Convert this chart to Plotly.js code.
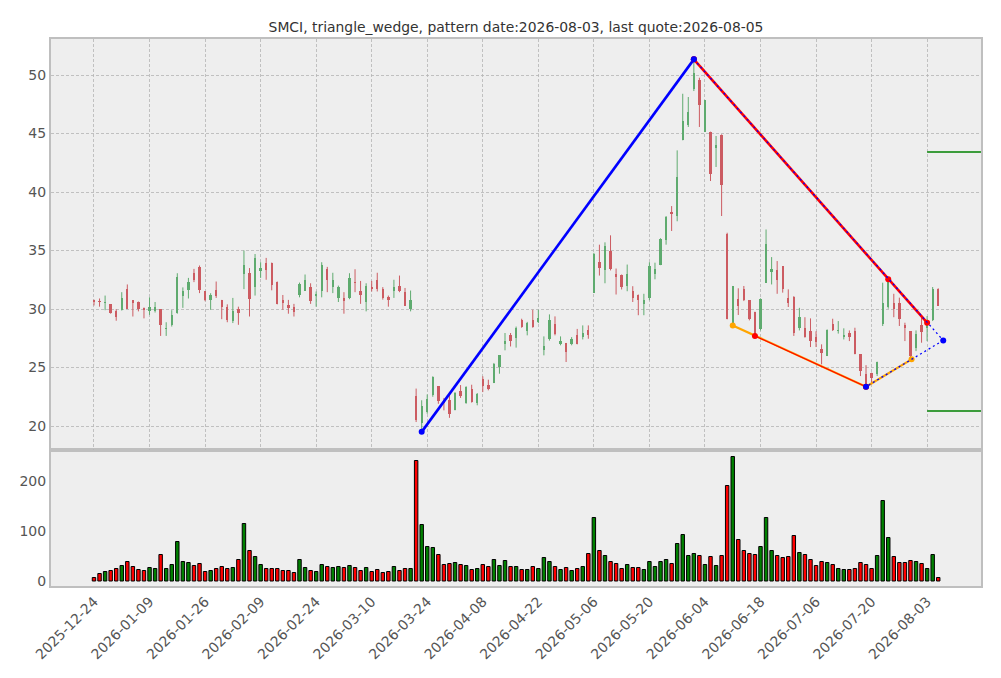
<!DOCTYPE html>
<html>
<head>
<meta charset="utf-8">
<script src="https://cdn.plot.ly/plotly-3.0.1.min.js"></script>
<style>
html,body{margin:0;padding:0;background:#fff;}
#chart{width:1001px;height:678px;}
</style>
</head>
<body>
<div id="chart"></div>
<script>
// ---- data (bar index 0 = 2025-12-24, 152 = 2026-08-05) ----
const opens = [30.73,30.7,30.5,30.4,29.8,29.93,31.72,30.73,30.64,30.13,
29.87,29.87,29.96,28.3,28.67,29.67,31.15,31.65,33.06,33.63,
31.5,30.78,31.64,30.78,30.2,29.0,30.0,33.0,33.06,31.87,
33.23,33.9,33.97,32.3,30.73,30.36,30.2,31.24,31.58,31.87,
31.1,31.58,33.46,31.87,30.95,30.95,30.9,32.35,31.5,30.64,
31.9,32.44,31.72,31.07,31.5,32.0,31.44,30.0,22.6,20.26,
21.2,22.62,23.4,22.2,22.25,21.34,23.0,21.97,23.16,21.97,
24.05,23.47,23.67,25.04,27.0,27.8,27.55,29.09,28.1,29.09,
28.9,26.47,27.46,28.69,27.04,27.1,26.98,27.75,27.6,28.23,
31.4,34.0,33.3,35.0,33.03,32.95,31.95,31.58,31.24,30.4,
30.9,32.96,33.8,35.87,38.3,37.95,44.42,45.73,48.77,49.54,
45.16,45.16,43.8,44.87,36.44,28.7,30.83,31.68,30.74,29.77,
28.26,32.25,33.2,33.3,33.67,30.97,31.03,28.35,28.35,28.12,
27.6,26.55,25.98,28.75,28.1,27.6,27.98,28.12,26.13,24.42,
24.56,24.42,28.75,30.17,30.54,30.54,28.63,28.12,26.7,28.6,
28.35,29.03,31.68];
const highs = [30.8,30.9,31.15,30.4,29.98,31.44,32.1,30.75,30.64,30.13,
31.0,30.6,29.96,28.87,29.9,33.06,31.85,32.66,33.43,33.72,
31.5,31.35,32.35,30.78,30.4,30.95,30.2,35.0,33.5,34.7,
34.0,34.37,33.97,32.35,31.2,30.78,30.44,32.26,32.95,32.2,
31.5,34.0,33.6,33.1,32.0,31.44,33.06,33.4,32.4,32.2,
32.4,33.1,31.87,31.15,32.5,32.86,31.8,31.58,23.2,22.2,
22.7,24.25,23.4,22.4,22.9,22.9,23.5,23.4,23.53,22.82,
24.25,23.96,25.39,26.04,27.95,27.95,28.5,29.17,28.9,29.94,
29.94,27.66,29.54,29.37,27.66,27.1,27.6,28.3,28.6,28.6,
34.8,35.5,35.7,36.3,33.46,32.95,33.8,31.95,31.24,31.3,
34.0,33.96,36.05,37.95,38.8,43.56,48.4,48.12,51.34,49.77,
47.83,45.16,44.79,44.93,36.52,31.97,31.77,31.97,30.74,29.77,
30.91,36.8,34.44,34.1,33.67,31.68,31.1,30.1,29.3,29.2,
28.1,26.98,28.26,29.17,28.97,28.35,28.17,28.4,26.13,25.2,
24.56,25.5,32.25,32.45,31.3,30.97,28.83,28.12,28.17,29.26,
29.4,31.88,31.77];
const lows = [30.3,30.2,29.9,29.6,29.0,29.87,30.0,29.36,29.8,29.2,
29.5,29.7,27.7,27.7,28.5,29.6,30.1,30.9,32.3,31.36,
30.67,29.93,30.95,29.13,28.87,28.8,28.65,31.7,29.36,31.15,
32.66,32.5,31.6,30.4,29.93,29.6,29.36,31.0,31.58,30.44,
30.2,31.0,31.44,31.36,30.6,29.6,30.84,31.44,30.44,29.8,
31.5,31.5,30.8,30.2,30.95,31.44,30.3,29.8,20.34,19.5,
21.05,22.5,21.9,21.34,20.7,21.34,22.4,21.9,22.0,21.77,
22.9,23.05,23.67,24.47,26.47,26.8,26.7,28.4,27.75,28.4,
28.8,26.04,27.3,27.75,26.9,25.47,26.9,26.98,27.4,27.46,
31.4,32.86,32.2,33.3,31.24,31.67,31.52,30.6,29.47,29.47,
30.75,32.54,33.75,35.5,36.67,37.5,44.42,45.56,48.63,45.56,
45.16,40.94,42.14,37.95,29.12,28.55,29.49,30.68,29.03,27.5,
28.17,32.25,32.1,31.3,31.4,30.17,27.7,28.17,27.55,26.75,
26.75,25.27,25.98,28.12,27.9,27.4,27.26,26.13,24.27,23.4,
23.56,24.27,28.55,30.03,29.3,28.55,27.26,25.78,26.4,27.12,
27.26,28.97,30.26];
const closes = [30.56,30.6,30.6,29.65,29.3,30.95,30.0,30.5,29.96,29.9,
30.2,30.2,28.6,28.4,29.45,32.72,31.5,32.3,32.44,31.64,
30.73,31.24,31.15,30.16,29.1,29.8,29.64,33.8,30.84,34.37,
33.52,33.3,32.04,30.44,30.5,30.07,29.73,32.15,32.44,30.67,
31.27,33.8,32.44,32.44,31.92,30.67,32.66,32.2,31.24,32.0,
31.72,31.72,30.95,30.73,31.92,31.5,30.3,30.78,20.5,21.68,
22.34,24.19,22.14,21.97,21.05,22.82,22.54,23.33,22.05,22.7,
23.4,23.2,25.33,26.04,27.26,27.26,28.4,28.5,28.8,28.46,
29.26,26.8,29.09,27.83,27.3,26.32,27.46,27.04,27.98,27.75,
34.7,33.5,35.37,33.43,32.72,31.87,33.03,30.95,30.8,30.8,
33.7,33.45,35.95,37.86,38.1,41.28,46.07,46.87,50.2,47.4,
47.83,41.57,44.0,40.6,29.12,31.97,30.26,30.74,29.12,27.7,
30.83,35.53,33.4,32.45,31.68,30.54,27.98,29.3,27.6,27.26,
27.15,26.2,28.17,28.17,28.2,27.78,27.6,26.13,24.7,23.56,
24.13,25.5,30.54,32.45,29.97,29.12,28.4,25.98,27.9,28.06,
29.03,31.68,30.26];
const volumes = [7,15,19,21,25,31,39,29,23,21,
27,25,53,25,33,79,39,37,31,35,
19,21,25,29,25,27,43,115,61,49,
33,25,25,25,21,21,17,43,27,21,
19,33,29,27,29,27,31,27,21,27,
19,23,17,19,29,21,25,25,241,113,
69,67,53,33,35,37,33,31,23,25,
33,29,43,31,41,29,29,23,23,29,
25,47,39,29,23,27,21,25,29,55,
127,61,51,39,35,25,33,27,27,23,
39,29,39,43,35,75,93,51,55,51,
33,49,31,51,191,249,83,61,55,53,
69,127,61,51,47,49,91,57,53,43,
31,39,37,33,25,23,23,25,37,33,
25,51,161,87,49,37,37,41,39,35,
25,53,7];
const tickLabels = ["2025-12-24","2026-01-09","2026-01-26","2026-02-09","2026-02-24",
"2026-03-10","2026-03-24","2026-04-08","2026-04-22","2026-05-06","2026-05-20",
"2026-06-04","2026-06-18","2026-07-06","2026-07-20","2026-08-03"];
const tickEvery = 10;

// pattern lines (bar index, price)
const riseX = [59, 108],            riseY = [19.5, 51.34];
const upperX = [108, 143, 150],     upperY = [51.34, 32.54, 28.83];
const upperExtX = [108, 152.9],     upperExtY = [51.34, 27.32];
const lowerExtX = [152.9, 139],     lowerExtY = [27.32, 23.36];
const orangeX = [115, 139, 147.2],  orangeY = [28.6, 23.36, 25.7];
const lowerRedX = [119, 139],       lowerRedY = [27.7, 23.36];
const targetLevels = [43.42, 21.28];
const targetStart = 150;

// ---- build traces ----
const UPC = '#5fab6f', DNC = '#cc5c62';
const idx = opens.map((_, i) => i);
const up = idx.filter(i => closes[i] >= opens[i]);
const dn = idx.filter(i => closes[i] < opens[i]);
const minBody = 0.07;

function wick(list, color) {
  const x = [], y = [];
  list.forEach(i => { x.push(i, i, null); y.push(lows[i], highs[i], null); });
  return {type:'scatter', mode:'lines', x, y, xaxis:'x2', yaxis:'y',
    line:{color, width:1}, hoverinfo:'skip', showlegend:false};
}
function body(list, color, isUp) {
  return {type:'bar', x:list,
    base:list.map(i => isUp ? opens[i] : closes[i]),
    y:list.map(i => Math.max(Math.abs(closes[i]-opens[i]), minBody)),
    width:0.42, xaxis:'x2', yaxis:'y',
    marker:{color, line:{width:0}}, showlegend:false, hoverinfo:'skip'};
}

const traces = [
  wick(up, UPC), wick(dn, DNC), body(up, UPC, true), body(dn, DNC, false),
  {type:'bar', x:idx, y:volumes, width:0.62, xaxis:'x', yaxis:'y2',
   marker:{color:idx.map(i => closes[i] >= opens[i] ? '#008000' : '#ff0000'),
           line:{color:'#000', width:1}}, showlegend:false},
];
targetLevels.forEach(v => traces.push({type:'scatter', mode:'lines',
  x:[targetStart, targetStart + 30], y:[v, v], xaxis:'x2', yaxis:'y',
  line:{color:'#008000', width:1.5}, showlegend:false}));

traces.push({type:'scatter', mode:'lines+markers', x:riseX, y:riseY, xaxis:'x2', yaxis:'y',
  line:{color:'#0000ff', width:2.6}, marker:{color:'#0000ff', size:6}, showlegend:false});
traces.push({type:'scatter', mode:'lines+markers', x:orangeX, y:orangeY, xaxis:'x2', yaxis:'y',
  line:{color:'#ffa500', width:2.2}, marker:{color:'#ffa500', size:6}, showlegend:false});
traces.push({type:'scatter', mode:'lines+markers', x:lowerRedX, y:lowerRedY, xaxis:'x2', yaxis:'y',
  line:{color:'#ff0000', width:1.2}, marker:{color:'#ff0000', size:6}, showlegend:false});
traces.push({type:'scatter', mode:'lines+markers', x:upperX, y:upperY, xaxis:'x2', yaxis:'y',
  line:{color:'#ff0000', width:2.6}, marker:{color:'#ff0000', size:6}, showlegend:false});
traces.push({type:'scatter', mode:'lines', x:upperExtX, y:upperExtY, xaxis:'x2', yaxis:'y',
  line:{color:'#0000ff', width:1.3, dash:'2px,3px'}, showlegend:false});
traces.push({type:'scatter', mode:'lines+markers', x:lowerExtX, y:lowerExtY, xaxis:'x2', yaxis:'y',
  line:{color:'#0000ff', width:1.3, dash:'2px,3px'}, marker:{color:'#0000ff', size:6}, showlegend:false});
// peak marker on top
traces.push({type:'scatter', mode:'markers', x:[riseX[1]], y:[riseY[1]], xaxis:'x2', yaxis:'y',
  marker:{color:'#0000ff', size:6}, showlegend:false});

const tickVals = tickLabels.map((_, k) => k * tickEvery);
const xr = [-7.74, 159.7];
const frame = {showline:true, mirror:true, linecolor:'#bfbfbf', linewidth:2, zeroline:false};
const tf = {family:'DejaVu Sans', size:14, color:'#555555'};
const split = 136/547;

const layout = {
  width:1001, height:678,
  margin:{l:51, r:20, t:39, b:92, pad:0},
  paper_bgcolor:'#ffffff', plot_bgcolor:'#eeeeee',
  barmode:'overlay', bargap:0, showlegend:false,
  font:{family:'DejaVu Sans', color:'#555555'},
  title:{text:'SMCI, triangle_wedge, pattern date:2026-08-03, last quote:2026-08-05',
    font:{family:'DejaVu Sans', size:13.9, color:'#333333'},
    x:0.5, xref:'paper', xanchor:'center', y:1-27/678, yref:'container', yanchor:'middle'},
  xaxis: Object.assign({domain:[0,1], anchor:'y2', range:xr, tickmode:'array',
    tickvals:tickVals, ticktext:tickLabels, tickangle:-45, showgrid:false,
    ticks:'', tickfont:tf}, frame),
  xaxis2: Object.assign({domain:[0,1], anchor:'y', range:xr, matches:'x', tickmode:'array',
    tickvals:tickVals, showticklabels:false, showgrid:true, gridcolor:'#b4b4b4',
    gridwidth:0.8, griddash:'3px,2px', ticks:''}, frame),
  yaxis: Object.assign({domain:[split,1], anchor:'x2', range:[17.95,53.08], tickmode:'array',
    tickvals:[20,25,30,35,40,45,50], showgrid:true, gridcolor:'#b4b4b4', gridwidth:0.8,
    griddash:'3px,2px', ticks:'', tickfont:tf}, frame),
  yaxis2: Object.assign({domain:[0,split], anchor:'x', range:[-10,262], tickmode:'array',
    tickvals:[0,100,200], showgrid:false, ticks:'', tickfont:tf}, frame),
};

Plotly.newPlot('chart', traces, layout, {staticPlot:true, displayModeBar:false});
</script>
</body>
</html>
